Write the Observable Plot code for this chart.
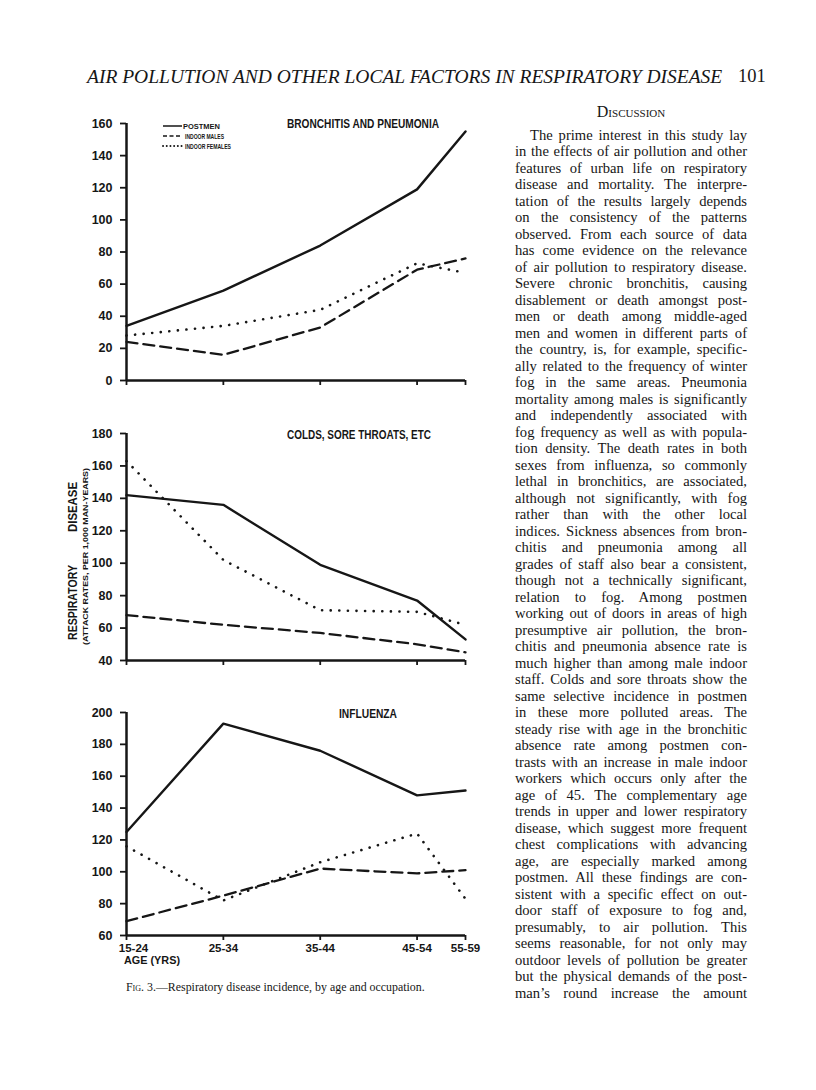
<!DOCTYPE html>
<html><head><meta charset="utf-8">
<script src="https://cdn.jsdelivr.net/npm/d3@7"></script>
<script src="https://cdn.jsdelivr.net/npm/@observablehq/plot@0.6"></script>
<style>
html,body{margin:0;padding:0;background:#fff;}
#page{position:relative;width:816px;height:1090px;overflow:hidden;background:#fff;color:#161616;}
.abs{position:absolute;}
#header{left:87px;top:66px;font-family:"Liberation Serif",serif;font-style:italic;font-size:19.5px;white-space:nowrap;}
#pageno{left:738px;top:66px;font-family:"Liberation Serif",serif;font-size:18.5px;}
#disc{left:515px;width:232px;top:103px;text-align:center;font-family:"Liberation Serif",serif;font-size:16px;font-variant:small-caps;}
#body{left:515px;width:232px;top:126.5px;font-family:"Liberation Serif",serif;font-size:14.6px;line-height:16.5px;}
#body div{white-space:nowrap;text-align:justify;text-align-last:justify;height:16.5px;}
#caption{left:126px;top:980px;font-family:"Liberation Serif",serif;font-size:11.9px;white-space:nowrap;}
</style></head>
<body>
<div id="page">
  <div id="header" class="abs">AIR POLLUTION AND OTHER LOCAL FACTORS IN RESPIRATORY DISEASE</div>
  <div id="pageno" class="abs">101</div>
  <div id="disc" class="abs">Discussion</div>
  <div id="body" class="abs"></div>
  <div id="caption" class="abs"><span style="font-variant:small-caps">Fig.</span> 3.—Respiratory disease incidence, by age and occupation.</div>
</div>
<script>
// ---- data ----
const ages = ["15-24","25-34","35-44","45-54","55-59"];
const ageUpper = [24,34,44,54,59];
const series = ["POSTMEN","INDOOR MALES","INDOOR FEMALES"];

const bronchPostmen       = [34,56,84,119,155];
const bronchIndoorMales   = [24,16,33,69,76];
const bronchIndoorFemales = [28,34,44,73,67];

const coldsPostmen        = [142,136,99,77,53];
const coldsIndoorMales    = [68,62,57,50,45];
const coldsIndoorFemales  = [163,102,71,70,62];

const fluPostmen          = [125,193,176,148,151];
const fluIndoorMales      = [69,85,102,99,101];
const fluIndoorFemales    = [116,82,106,124,83];

const panelTitles = ["BRONCHITIS AND PNEUMONIA","COLDS, SORE THROATS, ETC","INFLUENZA"];
const yDomains = [[0,160],[40,180],[60,200]];
const yTicks1 = [0,20,40,60,80,100,120,140,160];
const yTicks2 = [40,60,80,100,120,140,160,180];
const yTicks3 = [60,80,100,120,140,160,180,200];
const yLabelMain = ["RESPIRATORY","DISEASE"];
const yLabelSub = "(ATTACK RATES, PER 1,000 MAN-YEARS)";
const xLabel = "AGE (YRS)";

const discussionLines = [
"The prime interest in this study lay",
"in the effects of air pollution and other",
"features of urban life on respiratory",
"disease and mortality.  The interpre-",
"tation of the results largely depends",
"on the consistency of the patterns",
"observed.  From each source of data",
"has come evidence on the relevance",
"of air pollution to respiratory disease.",
"Severe chronic bronchitis, causing",
"disablement or death amongst post-",
"men or death among middle-aged",
"men and women in different parts of",
"the country, is, for example, specific-",
"ally related to the frequency of winter",
"fog in the same areas.  Pneumonia",
"mortality among males is significantly",
"and independently associated with",
"fog frequency as well as with popula-",
"tion density.  The death rates in both",
"sexes from influenza, so commonly",
"lethal in bronchitics, are associated,",
"although not significantly, with fog",
"rather than with the other local",
"indices. Sickness absences from bron-",
"chitis and pneumonia among all",
"grades of staff also bear a consistent,",
"though not a technically significant,",
"relation to fog.  Among postmen",
"working out of doors in areas of high",
"presumptive air pollution, the bron-",
"chitis and pneumonia absence rate is",
"much higher than among male indoor",
"staff. Colds and sore throats show the",
"same selective incidence in postmen",
"in these more polluted areas.  The",
"steady rise with age in the bronchitic",
"absence rate among postmen con-",
"trasts with an increase in male indoor",
"workers which occurs only after the",
"age of 45.  The complementary age",
"trends in upper and lower respiratory",
"disease, which suggest more frequent",
"chest complications with advancing",
"age, are especially marked among",
"postmen.  All these findings are con-",
"sistent with a specific effect on out-",
"door staff of exposure to fog and,",
"presumably, to air pollution.  This",
"seems reasonable, for not only may",
"outdoor levels of pollution be greater",
"but the physical demands of the post-",
"man\u2019s round increase the amount"
];

// ---- text column ----
const body = document.getElementById("body");
discussionLines.forEach((t, i) => {
  const d = document.createElement("div");
  d.textContent = t;
  if (i === 0) d.style.paddingLeft = "15px";
  body.appendChild(d);
});
body.querySelectorAll("div").forEach(d => {
  let ls = 0;
  while (d.scrollWidth > d.clientWidth + 0.5 && ls > -1.2) {
    ls -= 0.1;
    d.style.letterSpacing = ls.toFixed(2) + "px";
  }
});

// ---- charts ----
const INK = "#161616";
const lineStyle = {
  "POSTMEN": {strokeWidth: 2.4},
  "INDOOR MALES": {strokeWidth: 2.3, strokeDasharray: "11,6"},
  "INDOOR FEMALES": {strokeWidth: 2.6, strokeDasharray: "0.1,8.5", strokeLinecap: "round"}
};
function rows(vals, s) { return ageUpper.map((a, i) => ({age: a, label: ages[i], value: vals[i], series: s})); }

const panels = [
  {data: [rows(bronchPostmen,series[0]), rows(bronchIndoorMales,series[1]), rows(bronchIndoorFemales,series[2])], ticks: yTicks1, top: 100, height: 300, mt: 23, mb: 20, xl: false},
  {data: [rows(coldsPostmen,series[0]), rows(coldsIndoorMales,series[1]), rows(coldsIndoorFemales,series[2])], ticks: yTicks2, top: 410, height: 270, mt: 23, mb: 20, xl: false},
  {data: [rows(fluPostmen,series[0]), rows(fluIndoorMales,series[1]), rows(fluIndoorFemales,series[2])], ticks: yTicks3, top: 690, height: 285, mt: 22, mb: 40, xl: true}
];

const page = document.getElementById("page");
const svgs = panels.map((p, i) => {
  const chart = Plot.plot({
    width: 440, height: p.height,
    marginLeft: 66, marginRight: 35, marginTop: p.mt, marginBottom: p.mb,
    x: {domain: [24, 59]},
    y: {domain: yDomains[i]},
    style: {background: "transparent", color: INK, fontFamily: "'Liberation Sans', Arial, sans-serif", fontSize: "12.5px", fontWeight: "bold", overflow: "visible"},
    marks: [
      Plot.axisY({ticks: p.ticks, tickSize: 6, tickPadding: 8, label: null, strokeWidth: 1.8}),
      Plot.axisX({ticks: ageUpper, tickSize: 5, tickPadding: 3, label: null, fontSize: 11.5,
        tickFormat: p.xl ? (d => ages[ageUpper.indexOf(d)]) : (() => ""), strokeWidth: 1.8}),
      Plot.ruleX([24], {stroke: INK, strokeWidth: 2.5}),
      Plot.ruleY([yDomains[i][0]], {stroke: INK, strokeWidth: 2.5}),
      ...series.map((s, k) => Plot.line(p.data[k], {x: "age", y: "value", stroke: INK, ...lineStyle[s]}))
    ]
  });
  chart.style.position = "absolute";
  chart.style.left = "60px";
  chart.style.top = p.top + "px";
  page.appendChild(chart);
  return chart;
});

// nudge first x tick label right, like the original
d3.select(svgs[2]).selectAll('g[aria-label="x-axis tick label"] text')
  .filter((d, j) => j === 0).attr("dx", 7);

function label(svg, text, x, y, size, len, opts = {}) {
  const t = d3.select(svg).append("text")
    .attr("x", x).attr("y", y).attr("dy", "0.36em")
    .attr("font-size", size).attr("font-weight", "bold")
    .attr("font-family", "'Liberation Sans', Arial, sans-serif")
    .attr("fill", INK)
    .attr("text-anchor", opts.anchor || "start")
    .text(text);
  if (len) t.attr("textLength", len).attr("lengthAdjust", "spacingAndGlyphs");
  if (opts.rotate) t.attr("transform", `rotate(-90 ${x} ${y})`);
  return t;
}

// panel titles
label(svgs[0], panelTitles[0], 227, 23, 12.5, 152);
label(svgs[1], panelTitles[1], 227, 24, 12.5, 144);
label(svgs[2], panelTitles[2], 279, 23, 12.5, 58);

// legend (panel 1)
const lg = d3.select(svgs[0]);
const legendRows = [26, 36, 46];
series.forEach((s, k) => {
  lg.append("line").attr("x1", 103).attr("x2", 122).attr("y1", legendRows[k]).attr("y2", legendRows[k])
    .attr("stroke", INK).attr("stroke-width", k === 2 ? 1.9 : 1.5)
    .attr("stroke-dasharray", k === 1 ? "4,2.5" : k === 2 ? "0.1,3.6" : null)
    .attr("stroke-linecap", k === 2 ? "round" : null);
  label(svgs[0], s, k === 0 ? 123 : 125, legendRows[k], 7, [37, 39, 46][k]);
});

// y label (panel 2)
label(svgs[1], yLabelMain[0], 12.5, 192.5, 13, 75, {anchor: "middle", rotate: true});
label(svgs[1], yLabelMain[1], 12.5, 97, 13, 50, {anchor: "middle", rotate: true});
label(svgs[1], yLabelSub, 25.5, 146.5, 7.4, 177, {anchor: "middle", rotate: true});

// x label (panel 3)
label(svgs[2], xLabel, 64, 270, 11.5, 56);
</script>
</body></html>
